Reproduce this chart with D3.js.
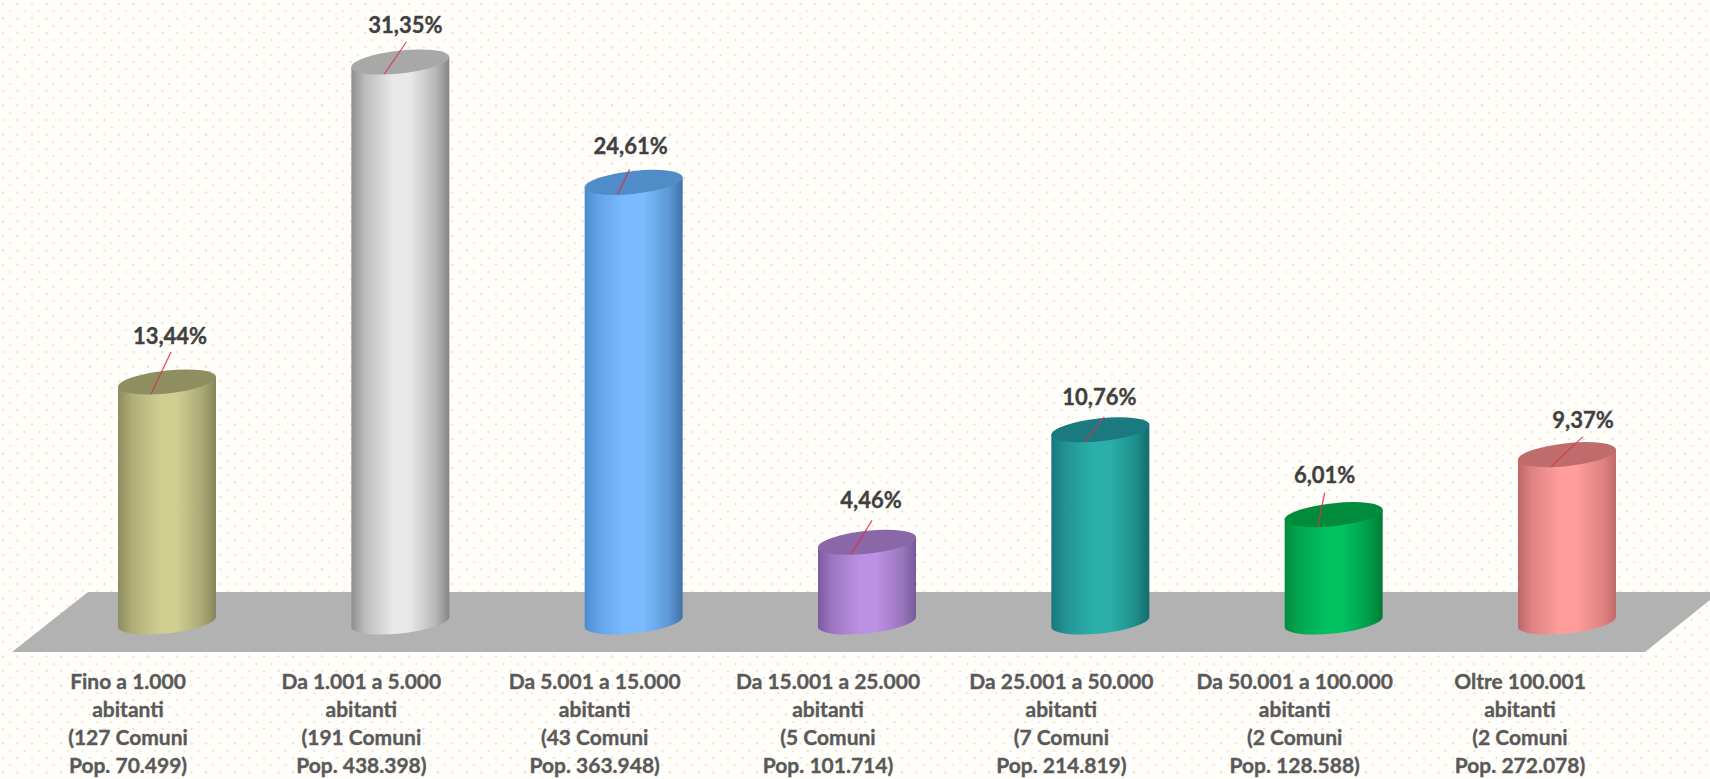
<!DOCTYPE html>
<html>
<head>
<meta charset="utf-8">
<script src="https://cdn.jsdelivr.net/npm/d3@7"></script>
<style>
	html, body { margin: 0; padding: 0; background: #fffefb; overflow: hidden; }
	text { font-family: Lato, "Open Sans", sans-serif; font-weight: 700; text-anchor: middle; }
	.value { font-size: 22px; fill: #404040; stroke: #404040; stroke-width: 0.35px; }
	.cat { font-size: 21px; fill: #595959; stroke: #595959; stroke-width: 0.35px; }
</style>
</head>
<body>
<script>
const fasce = ["Fino a 1.000", "Da 1.001 a 5.000", "Da 5.001 a 15.000", "Da 15.001 a 25.000", "Da 25.001 a 50.000", "Da 50.001 a 100.000", "Oltre 100.001"];
const comuni = [127, 191, 43, 5, 7, 2, 2];
const popolazione = ["70.499", "438.398", "363.948", "101.714", "214.819", "128.588", "272.078"];
const percentuali = [13.44, 31.35, 24.61, 4.46, 10.76, 6.01, 9.37];

// left edge, middle, right edge, top cap
const colori = [
	["#8c8c5f", "#cfcd90", "#85855a", "#8e8e60"],
	["#8f8f8f", "#e8e8e8", "#858585", "#a8a8a8"],
	["#4c8bd0", "#7abcff", "#3f72a8", "#4f8cc8"],
	["#7c5aa0", "#bc90e2", "#775a98", "#8a68a8"],
	["#19767c", "#2bafa8", "#126c6e", "#1a7a80"],
	["#068a40", "#00c060", "#007a35", "#008c3c"],
	["#bd6767", "#ff9c9c", "#c26a6a", "#c06c6c"]
];

// hand placed labels and leader ends, relative to the cap centre
const etichettaOffset = [[3, -46], [5, -37], [-3, -36], [4, -42], [-1, -32], [-9, -39], [16, -34]];
const leaderOffset = [[4, -30], [6, -20], [-4, -13], [5, -22], [4, -13], [-9, -22], [16, -18]];
const catNudge = [0, 0, 0, 0, 0, 0, -8];

const width = 1710;
const height = 779;
const barW = 98;
const capRy = 11.5;
const skew = -5.8;

const x = d3.scalePoint().domain(fasce).range([167, 1567]);
const y = d3.scaleLinear().domain([0, 31.35]).range([622, 62]);
const fmt = d3.format(".2f");

const svg = d3.select("body").append("svg")
	.attr("width", width)
	.attr("height", height)
	.style("display", "block");

const defs = svg.append("defs");

// dotted paper background
const pat = defs.append("pattern")
	.attr("id", "dots")
	.attr("patternUnits", "userSpaceOnUse")
	.attr("width", 29)
	.attr("height", 29);
[[3, 4, "#f5ebc4"], [17.5, 4, "#e9e6d8"], [10, 11, "#f4efd8"], [24.5, 11, "#f7edc8"],
 [3, 18.5, "#e9e6d8"], [17.5, 18.5, "#f5ebc4"], [10, 26, "#f7edc8"], [24.5, 26, "#edeadd"]].forEach(d => {
	pat.append("circle").attr("cx", d[0]).attr("cy", d[1]).attr("r", 1.35).attr("fill", d[2]);
});
svg.append("rect").attr("width", width).attr("height", height).attr("fill", "#fffefb");
svg.append("rect").attr("width", width).attr("height", height).attr("fill", "url(#dots)");

// floor
const floor = [[12, 652], [88, 592], [1720, 592], [1645, 652]];
svg.append("path")
	.attr("d", d3.line()(floor) + "Z")
	.attr("fill", "#b2b2b2");

// gradients, one per bar
fasce.forEach((f, i) => {
	const g = defs.append("linearGradient").attr("id", "cyl" + i);
	const c = colori[i];
	g.append("stop").attr("offset", "0%").attr("stop-color", c[0]);
	g.append("stop").attr("offset", "14%").attr("stop-color", d3.interpolateRgb(c[0], c[1])(0.5));
	g.append("stop").attr("offset", "42%").attr("stop-color", c[1]);
	g.append("stop").attr("offset", "60%").attr("stop-color", c[1]);
	g.append("stop").attr("offset", "86%").attr("stop-color", d3.interpolateRgb(c[2], c[1])(0.5));
	g.append("stop").attr("offset", "100%").attr("stop-color", c[2]);
});

const bars = svg.selectAll(".bar")
	.data(fasce)
	.enter()
	.append("g")
	.attr("class", "bar")
	.attr("transform", (d, i) => `translate(${x(d)},${y(percentuali[i])})`);

const cyl = bars.append("g").attr("transform", `skewY(${skew})`);

cyl.append("path")
	.attr("d", (d, i) => {
		const h = y(0) - y(percentuali[i]);
		const r = barW / 2;
		return `M${-r},0V${h}A${r},${capRy} 0 0 0 ${r},${h}V0Z`;
	})
	.attr("fill", (d, i) => `url(#cyl${i})`);

cyl.append("ellipse")
	.attr("rx", barW / 2)
	.attr("ry", capRy)
	.attr("fill", (d, i) => colori[i][3]);

// leader lines
bars.append("line")
	.attr("x1", -16)
	.attr("y1", 12)
	.attr("x2", (d, i) => leaderOffset[i][0])
	.attr("y2", (d, i) => leaderOffset[i][1])
	.attr("stroke", "#d8344c")
	.attr("stroke-opacity", 0.85)
	.attr("stroke-width", 1.3);

// value labels
bars.append("text")
	.attr("class", "value")
	.attr("x", (d, i) => etichettaOffset[i][0])
	.attr("y", (d, i) => etichettaOffset[i][1])
	.attr("dy", "0.35em")
	.text((d, i) => fmt(percentuali[i]).replace(".", ",") + "%");

// category labels
const catG = svg.selectAll(".catg")
	.data(fasce)
	.enter()
	.append("text")
	.attr("class", "cat")
	.attr("transform", (d, i) => `translate(${x(d) - 39 + catNudge[i]},0)`);

catG.selectAll("tspan")
	.data((d, i) => [d, "abitanti", `(${comuni[i]} Comuni`, `Pop. ${popolazione[i]})`])
	.enter()
	.append("tspan")
	.attr("x", 0)
	.attr("y", (d, j) => 689 + j * 28)
	.text(d => d);
</script>
</body>
</html>
